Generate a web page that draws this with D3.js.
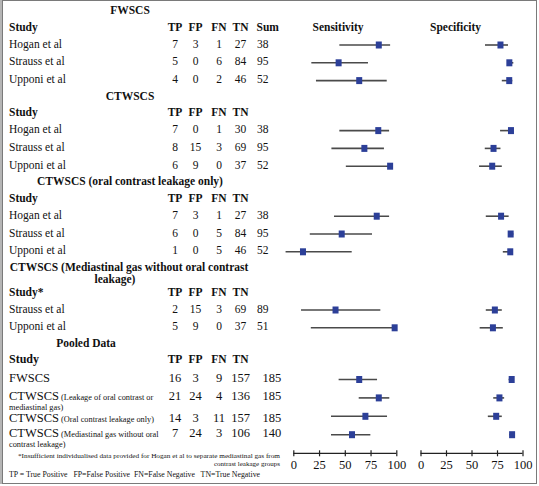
<!DOCTYPE html>
<html>
<head>
<meta charset="utf-8">
<script src="https://cdn.jsdelivr.net/npm/d3@7"></script>
<style>
  html, body { margin: 0; padding: 0; background: #fff; }
  svg { display: block; }
  text { font-family: "Liberation Serif", "Times New Roman", serif; fill: #111; }
</style>
</head>
<body>
<svg id="chart" width="539" height="486"></svg>
<script>
// ---------- data ----------
const groupTitles = [
  "FWSCS",
  "CTWSCS",
  "CTWSCS (oral contrast leakage only)",
  "CTWSCS (Mediastinal gas without oral contrast\nleakage)",
  "Pooled Data"
];
const groupHeaderStudy = ["Study", "Study", "Study", "Study*", "Study"];
const columnHeads = ["TP", "FP", "FN", "TN", "Sum"];

const studyGroup = [0, 0, 0, 1, 1, 1, 2, 2, 2, 3, 3, 4, 4, 4, 4];
const studyNames = [
  "Hogan et al", "Strauss et al", "Upponi et al",
  "Hogan et al", "Strauss et al", "Upponi et al",
  "Hogan et al", "Strauss et al", "Upponi et al",
  "Strauss et al", "Upponi et al",
  "FWSCS", "CTWSCS", "CTWSCS", "CTWSCS"
];
const studyNotes = [
  "", "", "", "", "", "", "", "", "", "", "",
  "",
  "(Leakage of oral contrast or\nmediastinal gas)",
  "(Oral contrast leakage only)",
  "(Mediastinal gas without oral\ncontrast leakage)"
];
const tp  = [7, 5, 4, 7, 8, 6, 7, 6, 1, 2, 5, 16, 21, 14, 7];
const fp  = [3, 0, 0, 0, 15, 9, 3, 0, 0, 15, 9, 3, 24, 3, 24];
const fn  = [1, 6, 2, 1, 3, 0, 1, 5, 5, 3, 0, 9, 4, 11, 3];
const tn  = [27, 84, 46, 30, 69, 37, 27, 84, 46, 69, 37, 157, 136, 157, 106];
const sum = [38, 95, 52, 38, 95, 52, 38, 95, 52, 89, 51, 185, 185, 185, 140];

const sens   = [83, 44, 64, 82.5, 69, 94, 81, 47, 9.4, 41, 98.4, 64, 83, 70, 57];
const sensLo = [44.7, 17.5, 22, 44.7, 37, 51, 39.5, 16, -7.5, 7.5, 17, 44, 63.5, 36.6, 36.6];
const sensHi = [94, 72.5, 90.7, 93, 88, 94, 93, 76.4, 56.7, 84.5, 98.4, 81.3, 93.2, 91, 74.8];
const spec   = [78.4, 87.1, 87, 88.7, 71.6, 70.3, 79, 88.4, 88, 72.9, 71, 89.4, 77.4, 74.2, 89.8];
const specLo = [63.2, 86, 79.7, 78, 63, 57.4, 64, 86, 80.7, 64, 58, 86.4, 71.3, 66, 87];
const specHi = [85.8, 91, 90, 89, 78.4, 79.7, 86.4, 91, 90, 79.7, 80.7, 90.5, 82, 79.7, 91];

const axisTicks = [0, 25, 50, 75, 100];
const footnote = [
  "*Insufficient individualised data provided for Hogan et al to separate mediastinal gas from",
  "contrast leakage groups"
];
const legendText = "TP = True Positive   FP=False Positive  FN=False Negative   TN=True Negative";

// ---------- layout ----------
const svg = d3.select("#chart");

// frame
svg.append("rect").attr("x", 0).attr("y", 0).attr("width", 3).attr("height", 484).attr("fill", "#b5b5b5");
svg.append("rect").attr("x", 2.5).attr("y", 0.5).attr("width", 534).attr("height", 483)
  .attr("fill", "none").attr("stroke", "#7a7a7a").attr("stroke-width", 1);

const xSens = d3.scaleLinear().domain([0, 100]).range([293.3, 396.3]);
const xSpec = d3.scaleLinear().domain([0, 100]).range([420.5, 522.5]);

const colX = { TP: 175, FP: 195.5, FN: 219, TN: 240.5, Sum: 265 };
const labelX = 9;

// vertical layout built with a cursor
const lines = [];
let y = 10;
groupTitles.forEach((t, g) => {
  const parts = t.split("\n");
  parts.forEach((p, k) => {
    if (k > 0) y += 11.7;
    lines.push({ type: "title", y, text: p, g, k });
  });
  y += parts.length > 1 ? 13 : 16.5;
  lines.push({ type: "header", y, g });
  const pooled = g === 4;
  y += pooled ? 18.7 : 17;
  const idx = studyGroup.map((d, i) => d === g ? i : -1).filter(i => i >= 0);
  idx.forEach((i, j) => {
    if (j > 0) y += pooled ? 18.4 : 17.8;
    const prevWrapped = j > 0 && studyNotes[idx[j - 1]].includes("\n");
    lines.push({ type: "row", y, i, pooled, textShift: prevWrapped ? 3.5 : 0 });
  });
  y += 16.5;
});

// group titles (bold, centered)
const titleCx = [130, 130, 130, 129, 86];
lines.filter(l => l.type === "title").forEach(l => {
  let cx = titleCx[l.g];
  if (l.g === 3 && l.k === 1) cx = 115;
  svg.append("text").attr("x", cx).attr("y", l.y + 4).attr("text-anchor", "middle")
    .attr("font-size", 11.5).attr("font-weight", "bold").text(l.text);
});

// headers
lines.filter(l => l.type === "header").forEach(l => {
  const hs = l.g === 4 ? 12 : 11.5;
  svg.append("text").attr("x", labelX).attr("y", l.y + 4).attr("font-size", hs)
    .attr("font-weight", "bold").text(groupHeaderStudy[l.g]);
  columnHeads.forEach(c => {
    if (c === "Sum" && l.g !== 0) return;
    svg.append("text").attr("x", c === "Sum" ? 256.5 : colX[c]).attr("y", l.y + 4)
      .attr("text-anchor", c === "Sum" ? "start" : "middle")
      .attr("font-size", 11.5).attr("font-weight", "bold").text(c);
  });
  if (l.g === 0) {
    svg.append("text").attr("x", 312.5).attr("y", l.y + 4).attr("font-size", 11.5)
      .attr("font-weight", "bold").text("Sensitivity");
    svg.append("text").attr("x", 430).attr("y", l.y + 4).attr("font-size", 11.5)
      .attr("font-weight", "bold").text("Specificity");
  }
});

// rows
const rows = lines.filter(l => l.type === "row");
rows.forEach(l => {
  const i = l.i;
  const fs = l.pooled ? 12.5 : 11.5;
  const ty = l.y + 4 + l.textShift;
  const t = svg.append("text").attr("x", labelX).attr("y", ty).attr("font-size", fs);
  t.append("tspan").text(studyNames[i]);
  if (studyNotes[i]) {
    const np = studyNotes[i].split("\n");
    t.append("tspan").attr("font-size", 8.3).text(" " + np[0]);
    if (np[1]) {
      svg.append("text").attr("x", labelX).attr("y", ty + 9.5).attr("font-size", 8.3).text(np[1]);
    }
  }
  const vals = [tp[i], fp[i], fn[i], tn[i], sum[i]];
  columnHeads.forEach((c, k) => {
    svg.append("text").attr("x", c === "Sum" ? (l.pooled ? 262.5 : 257) : colX[c]).attr("y", ty)
      .attr("text-anchor", c === "Sum" ? "start" : "middle")
      .attr("font-size", fs).text(vals[k]);
  });
});

// forest marks
const marks = svg.append("g");
const my = l => l.y + 1.5;
marks.selectAll("line.sens").data(rows).join("line")
  .attr("x1", d => xSens(sensLo[d.i])).attr("x2", d => xSens(sensHi[d.i]))
  .attr("y1", my).attr("y2", my).attr("stroke", "#4a4a4a").attr("stroke-width", 1.6);
marks.selectAll("line.spec").data(rows).join("line")
  .attr("x1", d => xSpec(specLo[d.i])).attr("x2", d => xSpec(specHi[d.i]))
  .attr("y1", my).attr("y2", my).attr("stroke", "#4a4a4a").attr("stroke-width", 1.6);
marks.selectAll("rect.sens").data(rows).join("rect")
  .attr("x", d => xSens(sens[d.i]) - 3).attr("y", d => my(d) - 3.5)
  .attr("width", 6).attr("height", 7).attr("fill", "#2c3f98");
marks.selectAll("rect.spec").data(rows).join("rect")
  .attr("x", d => xSpec(spec[d.i]) - 3).attr("y", d => my(d) - 3.5)
  .attr("width", 6).attr("height", 7).attr("fill", "#2c3f98");

// axes
const axisY = 453.3;
[xSens, xSpec].forEach(sc => {
  const g = svg.append("g").attr("transform", `translate(0,${axisY})`)
    .call(d3.axisBottom(sc).tickValues(axisTicks).tickSize(3).tickFormat(d3.format("d")));
  g.select(".domain").attr("d", `M${sc.range()[0]},0H${sc.range()[1]}`).attr("stroke", "#222").attr("stroke-width", 1.3);
  g.selectAll(".tick line").attr("y1", -3).attr("y2", 3).attr("stroke", "#222").attr("stroke-width", 1.2);
  g.selectAll(".tick text").attr("y", 7).attr("font-size", 12.5)
    .attr("font-family", "Liberation Serif, serif").attr("fill", "#111");
});

// footnote and legend
svg.append("text").attr("x", 280).attr("y", 458).attr("text-anchor", "end").attr("font-size", 7)
  .attr("textLength", 262).attr("lengthAdjust", "spacingAndGlyphs").text(footnote[0]);
svg.append("text").attr("x", 280).attr("y", 466).attr("text-anchor", "end").attr("font-size", 7)
  .text(footnote[1]);
svg.append("text").attr("x", 9).attr("y", 476.5).attr("font-size", 7.8)
  .attr("textLength", 251).attr("lengthAdjust", "spacingAndGlyphs")
  .style("white-space", "pre").text(legendText);
</script>
</body>
</html>
